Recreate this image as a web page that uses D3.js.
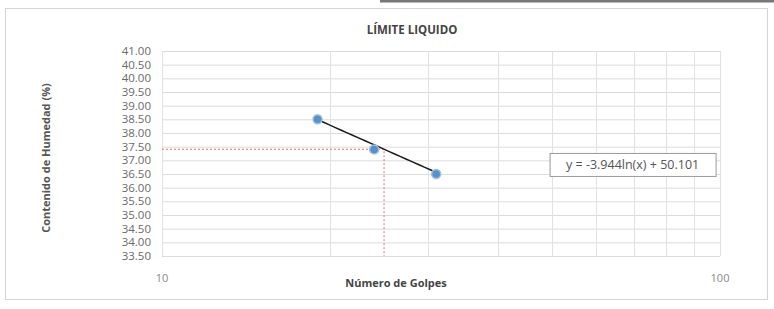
<!DOCTYPE html>
<html>
<head>
<meta charset="utf-8">
<script src="https://cdn.jsdelivr.net/npm/d3@7"></script>
<style>
  body { margin: 0; background: #fff; }
  text { font-family: 'Open Sans', 'Liberation Sans', sans-serif; }
</style>
</head>
<body>
<div id="chart"></div>
<script>
// Data
const golpes = [19, 24, 31]
const humedad = [38.5, 37.4, 36.5]
const yTicks = [33.5, 34, 34.5, 35, 35.5, 36, 36.5, 37, 37.5, 38, 38.5, 39, 39.5, 40, 40.5, 41]
const xTicks = [10, 100]
const xMinor = [20, 30, 40, 50, 60, 70, 80, 90]
const slope = -3.944
const intercept = 50.101
const golpesLL = 25

const W = 774
const H = 309
const margin = { top: 51, right: 54, bottom: 53, left: 162 }
const width = W - margin.left - margin.right
const height = H - margin.top - margin.bottom

const root = d3.select('#chart').append('svg').attr('width', W).attr('height', H)

// outer frame
root.append('rect')
  .attr('x', 5.5).attr('y', 8.5).attr('width', 762).attr('height', 291)
  .attr('fill', '#fff').attr('stroke', '#d4d4d4')
root.append('line')
  .attr('x1', 380).attr('x2', 774).attr('y1', 1).attr('y2', 1)
  .attr('stroke', '#777').attr('stroke-width', 3)

const svg = root.append('g').attr('transform', `translate(${margin.left}, ${margin.top})`)

const x = d3.scaleLog().domain([10, 100]).range([0, width])
const y = d3.scaleLinear().domain([33.5, 41]).range([height, 0])

// gridlines
svg.append('g')
  .selectAll('line')
  .data(yTicks)
  .join('line')
  .attr('x1', 0).attr('x2', width)
  .attr('y1', (d) => y(d) + 0.5).attr('y2', (d) => y(d) + 0.5)
  .attr('stroke', '#dcdcdc')

svg.append('g')
  .selectAll('line')
  .data(xTicks.concat(xMinor))
  .join('line')
  .attr('x1', (d) => Math.round(x(d)) + 0.5).attr('x2', (d) => Math.round(x(d)) + 0.5)
  .attr('y1', 0).attr('y2', height)
  .attr('stroke', '#e2e2e2')

// y tick labels
svg.append('g')
  .selectAll('text')
  .data(yTicks)
  .join('text')
  .attr('x', -11)
  .attr('y', (d) => y(d))
  .attr('dy', '0.35em')
  .attr('text-anchor', 'end')
  .attr('font-size', 11.5)
  .attr('fill', '#6a6a6a')
  .text((d) => d3.format('.2f')(d))

// x tick labels
svg.append('g')
  .selectAll('text')
  .data(xTicks)
  .join('text')
  .attr('x', (d) => x(d))
  .attr('y', height + 26)
  .attr('text-anchor', 'middle')
  .attr('font-size', 11)
  .attr('fill', '#8a8a8a')
  .text((d) => d)

// liquid limit guide lines (red dotted)
const ll = slope * Math.log(golpesLL) + intercept
svg.append('path')
  .attr('d', `M0,${y(ll)}H${x(golpesLL)}V${height}`)
  .attr('fill', 'none')
  .attr('stroke', '#e07070')
  .attr('stroke-width', 1)
  .attr('stroke-dasharray', '2,2')

// trendline over the data range
const ext = d3.extent(golpes)
const trend = d3.range(0, 21).map((i) => {
  const g = ext[0] * Math.pow(ext[1] / ext[0], i / 20)
  return [g, slope * Math.log(g) + intercept]
})
svg.append('path')
  .datum(trend)
  .attr('d', d3.line().x((d) => x(d[0])).y((d) => y(d[1])))
  .attr('fill', 'none')
  .attr('stroke', '#1a1a1a')
  .attr('stroke-width', 1.5)

// points
svg.append('g')
  .selectAll('circle')
  .data(golpes.map((g, i) => ({ g, h: humedad[i] })))
  .join('circle')
  .attr('cx', (d) => x(d.g))
  .attr('cy', (d) => y(d.h))
  .attr('r', 4.5)
  .attr('fill', '#5b8fc7')
  .attr('stroke', '#9fc0e3')
  .attr('stroke-width', 1.5)

// equation label
const eq = svg.append('g').attr('transform', `translate(${x(49.5)}, ${y(37.27)})`)
eq.append('rect')
  .attr('x', 0.5).attr('y', 0.5).attr('width', 166).attr('height', 23)
  .attr('fill', '#fff').attr('stroke', '#9a9a9a')
eq.append('text')
  .attr('x', 83).attr('y', 12).attr('dy', '0.35em')
  .attr('text-anchor', 'middle')
  .attr('font-size', 12.5)
  .attr('fill', '#555')
  .text(`y = ${slope}ln(x) + ${intercept}`)

// titles
root.append('text')
  .attr('x', 412).attr('y', 34)
  .attr('text-anchor', 'middle')
  .attr('font-size', 11.5).attr('font-weight', 'bold')
  .attr('fill', '#444')
  .text('LÍMITE LIQUIDO')

root.append('text')
  .attr('x', 396).attr('y', 287)
  .attr('text-anchor', 'middle')
  .attr('font-size', 11).attr('font-weight', 'bold')
  .attr('fill', '#444')
  .text('Número de Golpes')

root.append('text')
  .attr('transform', 'translate(50, 158) rotate(-90)')
  .attr('text-anchor', 'middle')
  .attr('font-size', 11).attr('font-weight', 'bold')
  .attr('fill', '#555')
  .text('Contenido de Humedad (%)')
</script>
</body>
</html>
